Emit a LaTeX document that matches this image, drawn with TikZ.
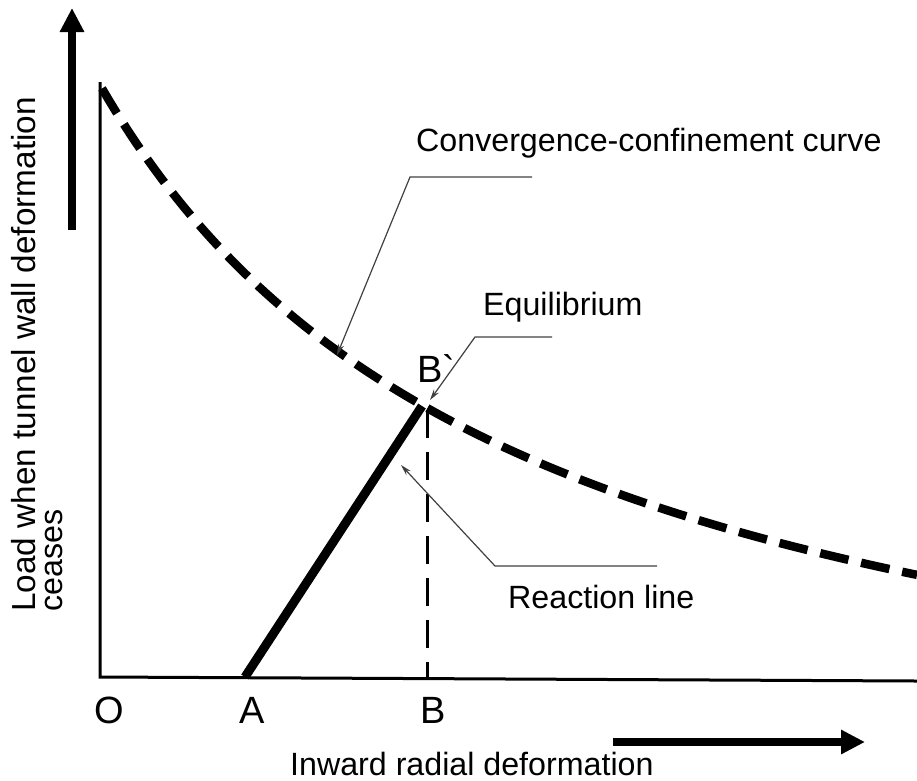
\documentclass[tikz,border=0pt]{standalone}
\usepackage{fontspec}
\setmainfont{Liberation Sans}
\usetikzlibrary{arrows.meta}
\begin{document}
\begin{tikzpicture}[x=1pt,y=-1pt,
  lbl/.style={inner sep=0pt,font=\fontsize{32.2}{38}\selectfont,anchor=base west},
  tick/.style={inner sep=0pt,font=\fontsize{38}{44}\selectfont,anchor=base},
  leader/.style={draw=black!75,line width=1.2pt,-{Stealth[length=11pt,width=6pt]}},
  bigarrow/.style={line width=8.5pt,-{Triangle[length=24pt,width=23pt]}},
  axis/.style={line width=3pt,line join=miter},
  ccurve/.style={line width=8.5pt,dash pattern=on 29pt off 13pt},
  vdash/.style={line width=3pt,dash pattern=on 28pt off 14pt},
  react/.style={line width=9pt}]
\useasboundingbox (0,0) rectangle (917,780);
% axes
\coordinate (top) at (100,82);
\coordinate (O) at (100,677);
\coordinate (xend) at (917,681);
\draw[axis] (top) -- (O) -- (xend);
% arrows
\coordinate (ya0) at (72,230);
\coordinate (ya1) at (72,8);
\draw[bigarrow] (ya0) -- (ya1);
\coordinate (xa0) at (613,742);
\coordinate (xa1) at (865,742);
\draw[bigarrow] (xa0) -- (xa1);
% curve
\draw[ccurve] plot[domain=102:917,samples=120] (\x,{832.7-3215.21/((\x+330)/100)});
% reaction line
\coordinate (A) at (245,677);
\coordinate (Bp) at (422,406);
\draw[react] (A) -- (Bp);
\coordinate (Btop) at (427,410);
\coordinate (B) at (427,677);
\draw[vdash] (Btop) -- (B);
% labels
\node[lbl] (conv) at (416,151) {Convergence-confinement curve};
\node[lbl] (equi) at (483,315) {Equilibrium};
\node[lbl] (reac) at (508,608) {Reaction line};
\node[lbl,font=\fontsize{38}{44}\selectfont] (bprime) at (417,382) {B\textasciigrave};
\node[tick] (lO) at (109,723) {O};
\node[tick] (lA) at (252,723) {A};
\node[tick] (lB) at (433,723) {B};
\node[lbl] (xlab) at (290,775) {Inward radial deformation};
\node[lbl,rotate=90,font=\fontsize{33.3}{38}\selectfont] (ylab1) at (35,612) {Load when tunnel wall deformation};
\node[lbl,rotate=90,font=\fontsize{32.2}{38}\selectfont] (ylab2) at (62,612) {ceases};
% leaders
\coordinate (c1) at (532,177);
\coordinate (c2) at (410,177);
\coordinate (c3) at (337,355);
\draw[leader] (c1) -- (c2) -- (c3);
\coordinate (e1) at (552,337);
\coordinate (e2) at (475,337);
\coordinate (e3) at (430,400);
\draw[leader] (e1) -- (e2) -- (e3);
\coordinate (r1) at (657,566);
\coordinate (r2) at (495,566);
\coordinate (r3) at (401,465);
\draw[leader] (r1) -- (r2) -- (r3);
\end{tikzpicture}
\end{document}
